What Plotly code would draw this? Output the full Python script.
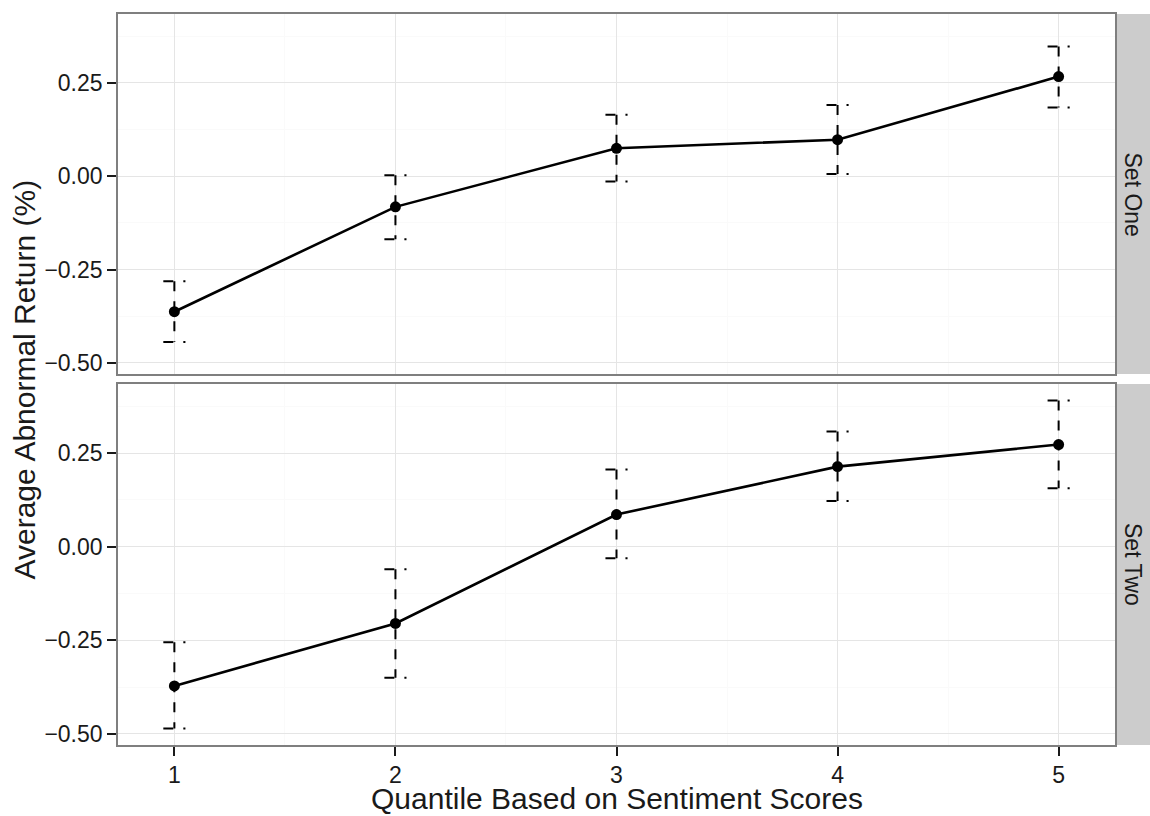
import plotly.graph_objects as go

quantiles = [1, 2, 3, 4, 5]
set_one_mean = [-0.363, -0.082, 0.075, 0.098, 0.267]
set_one_upper = [-0.281, 0.003, 0.165, 0.191, 0.348]
set_one_lower = [-0.444, -0.169, -0.014, 0.006, 0.184]
set_two_mean = [-0.372, -0.205, 0.086, 0.214, 0.273]
set_two_upper = [-0.255, -0.060, 0.206, 0.308, 0.391]
set_two_lower = [-0.486, -0.350, -0.031, 0.122, 0.156]
panel_labels = ["Set One", "Set Two"]
ytick_vals = [-0.5, -0.25, 0.0, 0.25]
ytick_text = ["\u22120.50", "\u22120.25", "0.00", "0.25"]
xtick_vals = [1, 2, 3, 4, 5]
cap_half = 0.05

FONT = "Liberation Sans, Arial, Helvetica, sans-serif"
INK = "#1a1a1a"

fig = go.Figure()

panels = [
    (set_one_mean, set_one_upper, set_one_lower, "x", "y"),
    (set_two_mean, set_two_upper, set_two_lower, "x2", "y2"),
]
err_style = dict(color="black", width=2, dash="10px,10px")
for mean, up, lo, xa, ya in panels:
    for x, u, l in zip(quantiles, up, lo):
        segs = [
            ([x - cap_half, x + cap_half], [u, u]),
            ([x, x], [u, l]),
            ([x - cap_half, x + cap_half], [l, l]),
        ]
        for sx, sy in segs:
            fig.add_trace(go.Scatter(x=sx, y=sy, mode="lines", line=err_style,
                                     xaxis=xa, yaxis=ya, showlegend=False, hoverinfo="skip"))
    fig.add_trace(go.Scatter(x=quantiles, y=mean, mode="lines+markers",
                             line=dict(color="black", width=2.6),
                             marker=dict(color="black", size=11),
                             xaxis=xa, yaxis=ya, showlegend=False))

L, R, T, B = 118, 35, 12, 71
W, H = 1150, 816
pw = W - L - R
ph = H - T - B
top_dom = [(745 - 373) / ph, 1]
bot_dom = [0, (745 - 383) / ph]

grid_major = "#E5E5E5"
grid_minor = "#FAFAFA"
border = "#7F7F7F"

xcommon = dict(range=[0.745, 5.255], tickvals=xtick_vals, showgrid=True,
               gridcolor=grid_major, gridwidth=1.2, zeroline=False,
               showline=True, mirror=True, linecolor=border, linewidth=1.6,
               minor=dict(tickvals=[1.5, 2.5, 3.5, 4.5], showgrid=True,
                          gridcolor=grid_minor, gridwidth=1.2, ticks=""))
ycommon = dict(range=[-0.5299, 0.4348], tickvals=ytick_vals, ticktext=ytick_text,
               showgrid=True, gridcolor=grid_major, gridwidth=1.2, zeroline=False,
               showline=True, mirror=True, linecolor=border, linewidth=1.6,
               ticks="outside", ticklen=9, tickwidth=2, tickcolor=INK,
               tickfont=dict(size=23, color=INK, family=FONT),
               minor=dict(tickvals=[-0.375, -0.125, 0.125, 0.375], showgrid=True,
                          gridcolor=grid_minor, gridwidth=1.2, ticks=""))

fig.update_layout(
    width=W, height=H,
    margin=dict(l=L, r=R, t=T, b=B, pad=0),
    paper_bgcolor="white", plot_bgcolor="white",
    font=dict(family=FONT, color=INK),
    xaxis=dict(**xcommon, domain=[0, 1], anchor="y", showticklabels=False, ticks=""),
    xaxis2=dict(**xcommon, domain=[0, 1], anchor="y2", ticks="outside", ticklen=9,
                tickwidth=2, tickcolor=INK, tickfont=dict(size=23, color=INK, family=FONT)),
    yaxis=dict(**ycommon, domain=top_dom, anchor="x"),
    yaxis2=dict(**ycommon, domain=bot_dom, anchor="x2"),
)

strip_w = 35 / pw
for label, yref in zip(panel_labels, ["y domain", "y2 domain"]):
    fig.add_shape(type="rect", xref="paper", yref=yref, x0=1.0015, x1=1 + strip_w + 0.01,
                  y0=0, y1=1, fillcolor="#CCCCCC", line=dict(width=0), layer="below")
    fig.add_annotation(text=label, xref="paper", yref=yref, x=1 + strip_w / 2, y=0.5,
                       showarrow=False, textangle=90, font=dict(size=23, color=INK, family=FONT),
                       xanchor="center", yanchor="middle")

fig.add_annotation(text="Quantile Based on Sentiment Scores", xref="paper", yref="paper",
                   x=0.5, y=-(799 - 745) / ph, showarrow=False, xanchor="center", yanchor="middle",
                   font=dict(size=30, color=INK, family=FONT))
fig.add_annotation(text="Average Abnormal Return (%)", xref="paper", yref="paper",
                   x=(24 - L) / pw, y=0.5, showarrow=False, textangle=-90,
                   xanchor="center", yanchor="middle",
                   font=dict(size=30, color=INK, family=FONT))

fig.write_html("out.html")
